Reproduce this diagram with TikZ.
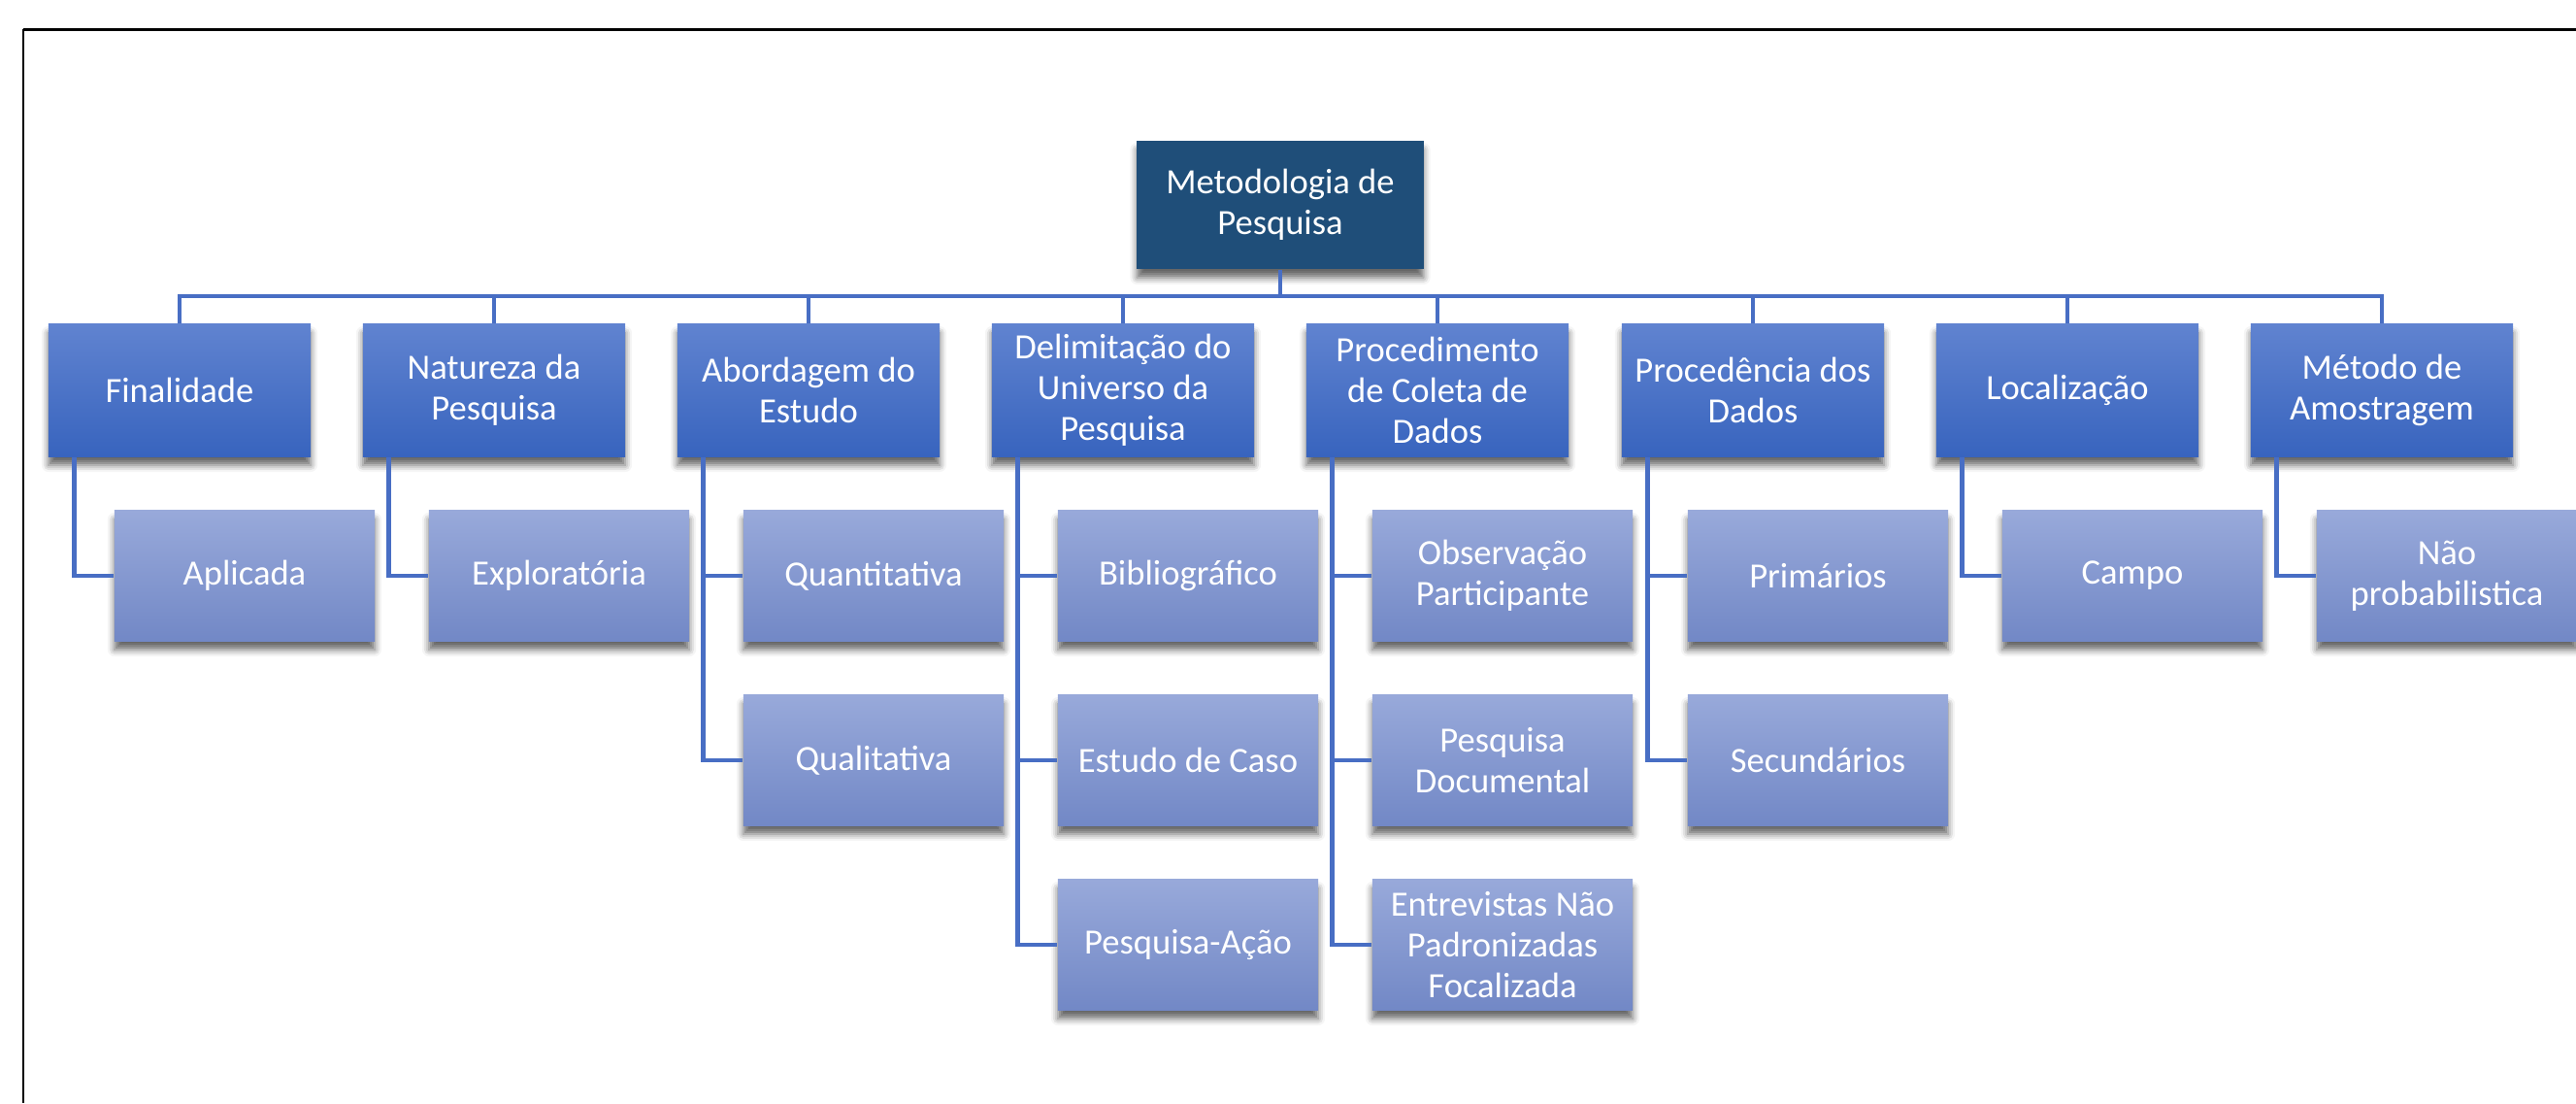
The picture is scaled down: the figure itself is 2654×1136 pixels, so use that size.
\documentclass[tikz,border=0pt]{standalone}
\usepackage{fontspec}
\setmainfont{Carlito}
\usetikzlibrary{shadows.blur}
\definecolor{rootblue}{RGB}{31,78,121}
\definecolor{cattop}{RGB}{96,131,208}
\definecolor{catbot}{RGB}{56,100,190}
\definecolor{itemtop}{RGB}{152,169,218}
\definecolor{itembot}{RGB}{114,136,198}
\definecolor{linkblue}{RGB}{72,110,196}
\begin{document}
\begin{tikzpicture}[x=0.01cm,y=-0.01cm,
    boxshadow/.style={blur shadow={shadow xshift=0cm,shadow yshift=-0.09cm,shadow blur radius=0.07cm,shadow opacity=60}},
    rootbox/.style={fill=rootblue,text=white,minimum width=2.95cm,minimum height=1.32cm,inner sep=0pt,align=center,boxshadow},
    catbox/.style={top color=cattop,bottom color=catbot,text=white,minimum width=2.70cm,minimum height=1.36cm,inner sep=0pt,align=center,boxshadow},
    itembox/.style={top color=itemtop,bottom color=itembot,text=white,minimum width=2.68cm,minimum height=1.34cm,inner sep=0pt,align=center,boxshadow},
    link/.style={draw=linkblue,line width=1.3pt}]
    \useasboundingbox (0,0) rectangle (2654,1136);
    \fontsize{10.4}{11.9}\selectfont
    \draw[line width=0.03cm] (2654,30) -- (24,30);
    \draw[line width=0.02cm] (24,30) -- (24,1136);
    \node[rootbox] (root) at (1319,211) {Metodologia de\\Pesquisa};
    \coordinate (bus) at (1319,305);
    \node[catbox] (fin) at (185,402) {Finalidade};
    \node[catbox] (nat) at (509,402) {Natureza da\\Pesquisa};
    \node[catbox] (abo) at (833,402) {Abordagem do\\Estudo};
    \node[catbox] (del) at (1157,402) {Delimitação do\\Universo da\\Pesquisa};
    \node[catbox] (proc) at (1481,402) {Procedimento\\de Coleta de\\Dados};
    \node[catbox] (orig) at (1806,402) {Procedência dos\\Dados};
    \node[catbox] (loc) at (2130,402) {Localização};
    \node[catbox] (amo) at (2454,402) {Método de\\Amostragem};
    \node[itembox] (apl) at (252,593) {Aplicada};
    \node[itembox] (exp) at (576,593) {Exploratória};
    \node[itembox] (quan) at (900,593) {Quantitativa};
    \node[itembox] (qual) at (900,783) {Qualitativa};
    \node[itembox] (bib) at (1224,593) {Bibliográfico};
    \node[itembox] (caso) at (1224,783) {Estudo de Caso};
    \node[itembox] (acao) at (1224,973) {Pesquisa-Ação};
    \node[itembox] (obs) at (1548,593) {Observação\\Participante};
    \node[itembox] (doc) at (1548,783) {Pesquisa\\Documental};
    \node[itembox] (ent) at (1548,973) {Entrevistas Não\\Padronizadas\\Focalizada};
    \node[itembox] (pri) at (1873,593) {Primários};
    \node[itembox] (sec) at (1873,783) {Secundários};
    \node[itembox] (cam) at (2197,593) {Campo};
    \node[itembox] (nprob) at (2521,593) {Não\\probabilistica};
    \draw[link] (root.south) -- (bus);
    \draw[link] (bus) -| (fin.north) (bus) -| (nat.north) (bus) -| (abo.north) (bus) -| (del.north);
    \draw[link] (bus) -| (proc.north) (bus) -| (orig.north) (bus) -| (loc.north) (bus) -| (amo.north);
    \draw[link] ([xshift=0.27cm]fin.south west) |- (apl.west);
    \draw[link] ([xshift=0.27cm]nat.south west) |- (exp.west);
    \draw[link] ([xshift=0.27cm]abo.south west) |- (quan.west);
    \draw[link] ([xshift=0.27cm]abo.south west) |- (qual.west);
    \draw[link] ([xshift=0.27cm]del.south west) |- (bib.west);
    \draw[link] ([xshift=0.27cm]del.south west) |- (caso.west);
    \draw[link] ([xshift=0.27cm]del.south west) |- (acao.west);
    \draw[link] ([xshift=0.27cm]proc.south west) |- (obs.west);
    \draw[link] ([xshift=0.27cm]proc.south west) |- (doc.west);
    \draw[link] ([xshift=0.27cm]proc.south west) |- (ent.west);
    \draw[link] ([xshift=0.27cm]orig.south west) |- (pri.west);
    \draw[link] ([xshift=0.27cm]orig.south west) |- (sec.west);
    \draw[link] ([xshift=0.27cm]loc.south west) |- (cam.west);
    \draw[link] ([xshift=0.27cm]amo.south west) |- (nprob.west);
\end{tikzpicture}
\end{document}
